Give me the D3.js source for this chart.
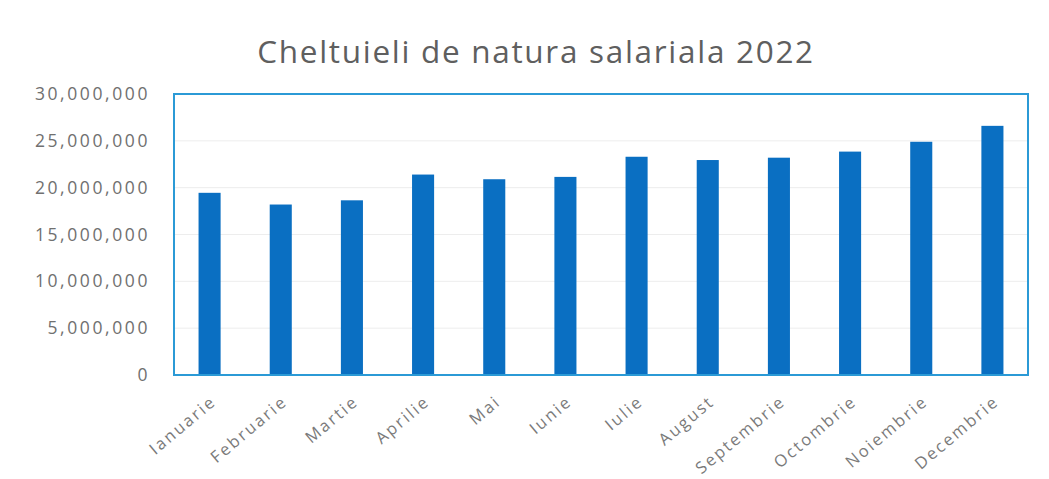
<!DOCTYPE html>
<meta charset="utf-8">
<style>
  body { margin: 0; background: #fff; }
  text { font-family: "Open Sans", sans-serif; fill: #666; }
</style>
<svg width="1049" height="479"></svg>
<script src="https://d3js.org/d3.v7.min.js"></script>
<script>
// luni si valori (lei)
var months = ["Ianuarie", "Februarie", "Martie", "Aprilie", "Mai", "Iunie",
              "Iulie", "August", "Septembrie", "Octombrie", "Noiembrie", "Decembrie"];
var values = [19450000, 18200000, 18650000, 21400000, 20900000, 21150000,
              23300000, 22950000, 23200000, 23850000, 24900000, 26600000];
var yTicks = [0, 5000000, 10000000, 15000000, 20000000, 25000000, 30000000];
var title = "Cheltuieli de natura salariala 2022";

var svg = d3.select("svg"),
    margin = {top: 94, right: 21, bottom: 104, left: 174},
    width = +svg.attr("width") - margin.left - margin.right,
    height = +svg.attr("height") - margin.top - margin.bottom,
    fmt = d3.format(",");

var x = d3.scaleBand().domain(months).range([0, width]).paddingInner(0.69).paddingOuter(0.345);
var y = d3.scaleLinear().domain([0, 30000000]).range([height, 0]);

svg.append("text")
    .attr("x", 536).attr("y", 63)
    .attr("text-anchor", "middle")
    .style("font-size", "31.5px")
    .style("letter-spacing", "1.7px")
    .style("fill", "#5f5f5f")
    .text(title);

var g = svg.append("g").attr("transform", "translate(" + margin.left + "," + margin.top + ")");

// gridlines
g.selectAll(".grid").data(yTicks.slice(1, -1)).enter().append("line")
    .attr("x1", 0).attr("x2", width)
    .attr("y1", function(d) { return y(d); }).attr("y2", function(d) { return y(d); })
    .attr("stroke", "#ededed");

// y axis
var yAxis = g.append("g").call(d3.axisLeft(y).tickValues(yTicks).tickFormat(fmt).tickSize(0).tickPadding(24));
yAxis.select(".domain").remove();
yAxis.selectAll("text")
    .style("font-size", "17.5px").style("letter-spacing", "2.6px")
    .style("fill", "#707070").attr("dy", "0.32em");

// bars
g.selectAll(".bar").data(values).enter().append("rect")
    .attr("x", function(d, i) { return x(months[i]); })
    .attr("width", x.bandwidth())
    .attr("y", function(d) { return y(d); })
    .attr("height", function(d) { return height - y(d); })
    .attr("fill", "#0a6fc2");

// x axis
var xAxis = g.append("g").attr("transform", "translate(0," + height + ")")
    .call(d3.axisBottom(x).tickSize(0).tickPadding(0));
xAxis.select(".domain").attr("stroke", "#d0d0d0");
xAxis.selectAll("text")
    .style("font-size", "16.5px").style("letter-spacing", "2.2px")
    .style("fill", "#7a7a7a")
    .attr("text-anchor", "end")
    .attr("x", 0).attr("y", 0).attr("dy", "0.35em")
    .attr("transform", "translate(4,24) rotate(-40)");

// plot border
g.append("rect")
    .attr("x", 0).attr("y", 0).attr("width", width).attr("height", height)
    .attr("fill", "none").attr("stroke", "#2b9ad6").attr("stroke-width", 2);
</script>
